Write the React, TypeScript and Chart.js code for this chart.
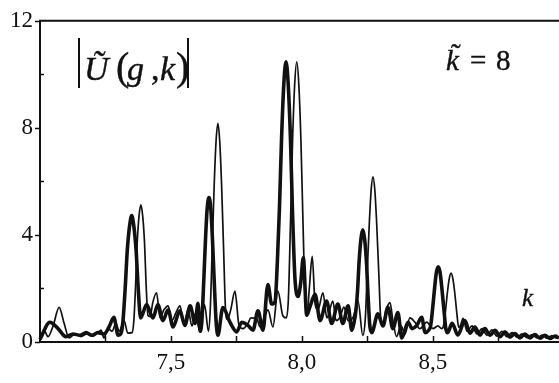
import React, { useEffect, useRef } from "react";
import { Chart, registerables } from "chart.js";

Chart.register(...registerables);

// ---- data: thick curve ----
const kThick = [
  7.000, 7.038, 7.069, 7.099, 7.126, 7.153, 7.176, 7.198, 7.221, 7.244, 7.263, 7.282, 7.298,
  7.308, 7.316, 7.325, 7.333, 7.342, 7.350, 7.358, 7.367, 7.375, 7.384, 7.407, 7.431, 7.450,
  7.469, 7.489, 7.508, 7.534, 7.553, 7.573, 7.592, 7.603, 7.611, 7.618, 7.625, 7.632, 7.638,
  7.645, 7.652, 7.658, 7.665, 7.672, 7.679, 7.698, 7.725, 7.751, 7.770, 7.794, 7.813, 7.832,
  7.851, 7.870, 7.884, 7.897, 7.906, 7.914, 7.922, 7.931, 7.939, 7.947, 7.956, 7.964, 7.973,
  7.985, 7.995, 8.005, 8.018, 8.030, 8.050, 8.069, 8.094, 8.113, 8.137, 8.156, 8.176, 8.190,
  8.198, 8.205, 8.212, 8.218, 8.225, 8.232, 8.239, 8.246, 8.252, 8.259, 8.266, 8.290, 8.309,
  8.328, 8.347, 8.366, 8.381, 8.405, 8.420, 8.438, 8.457, 8.470, 8.484, 8.491, 8.498, 8.506,
  8.513, 8.520, 8.527, 8.534, 8.542, 8.549, 8.556, 8.573, 8.595, 8.622, 8.641, 8.660, 8.679,
  8.698, 8.718, 8.737, 8.756, 8.775, 8.794, 8.813, 8.832, 8.851, 8.870, 8.889, 8.908, 8.927,
  8.947, 8.966, 8.981,
];
const uThick = [
  0.10, 0.74, 0.50, 0.20, 0.30, 0.25, 0.35, 0.25, 0.35, 0.30, 0.55, 0.92, 0.25,
  0.30, 0.71, 1.98, 3.40, 4.34, 4.72, 4.34, 3.40, 1.98, 0.90, 1.40, 0.90, 1.40,
  0.80, 1.20, 0.56, 1.17, 0.62, 1.35, 0.69, 1.45, 0.40, 0.80, 2.27, 3.90, 4.97,
  5.40, 4.97, 3.90, 2.27, 0.80, 0.25, 1.29, 0.74, 0.38, 0.74, 0.62, 0.44, 1.17,
  0.44, 2.15, 1.42, 1.50, 3.00, 5.00, 7.60, 9.70, 10.47, 9.70, 7.60, 4.80, 2.40,
  1.70, 2.20, 3.15, 1.00, 1.30, 1.78, 0.80, 1.53, 0.69, 1.42, 0.69, 1.35, 0.44,
  0.70, 1.10, 1.90, 3.00, 3.85, 4.19, 3.85, 3.00, 1.76, 0.60, 0.35, 1.05, 0.60,
  1.30, 0.50, 1.10, 0.15, 0.74, 0.50, 0.62, 0.92, 0.35, 0.45, 0.60, 1.18, 2.00,
  2.60, 2.81, 2.60, 2.00, 1.18, 0.50, 0.35, 0.70, 0.26, 0.80, 0.33, 0.56, 0.26,
  0.50, 0.25, 0.44, 0.20, 0.38, 0.18, 0.32, 0.15, 0.30, 0.15, 0.28, 0.14, 0.25,
  0.13, 0.22, 0.15,
];

// ---- data: thin curve ----
const kThin = [
  7.000, 7.015, 7.031, 7.050, 7.073, 7.092, 7.111, 7.134, 7.156, 7.179, 7.202, 7.221, 7.233,
  7.244, 7.260, 7.275, 7.290, 7.302, 7.321, 7.335, 7.351, 7.358, 7.365, 7.371, 7.378, 7.385,
  7.392, 7.399, 7.405, 7.412, 7.420, 7.431, 7.445, 7.458, 7.473, 7.489, 7.504, 7.519, 7.534,
  7.550, 7.565, 7.580, 7.595, 7.607, 7.617, 7.628, 7.643, 7.650, 7.657, 7.665, 7.672, 7.679,
  7.686, 7.693, 7.701, 7.708, 7.715, 7.728, 7.744, 7.760, 7.775, 7.794, 7.805, 7.827, 7.840,
  7.859, 7.870, 7.889, 7.908, 7.927, 7.940, 7.948, 7.956, 7.964, 7.972, 7.980, 7.988, 7.996,
  8.004, 8.012, 8.020, 8.028, 8.039, 8.050, 8.061, 8.080, 8.095, 8.118, 8.130, 8.145, 8.160,
  8.176, 8.195, 8.214, 8.232, 8.242, 8.249, 8.257, 8.264, 8.271, 8.278, 8.285, 8.293, 8.300,
  8.307, 8.321, 8.336, 8.347, 8.361, 8.378, 8.393, 8.412, 8.431, 8.450, 8.476, 8.500, 8.519,
  8.533, 8.540, 8.547, 8.555, 8.562, 8.569, 8.576, 8.583, 8.591, 8.598, 8.605, 8.615, 8.630,
  8.649, 8.668, 8.687, 8.706, 8.725, 8.744, 8.763, 8.782, 8.802, 8.821, 8.840, 8.859, 8.878,
  8.897, 8.916, 8.935, 8.954, 8.973,
];
const uThin = [
  0.05, 0.45, 0.20, 0.60, 1.29, 0.70, 0.15, 0.30, 0.20, 0.30, 0.22, 0.35, 0.44,
  0.15, 0.50, 0.40, 0.70, 0.40, 0.80, 0.33, 0.35, 0.77, 2.15, 3.70, 4.70, 5.12,
  4.70, 3.70, 2.15, 1.00, 0.95, 1.50, 1.84, 0.92, 1.20, 1.35, 0.80, 1.10, 1.35,
  0.70, 1.20, 0.60, 1.10, 0.50, 0.80, 1.40, 0.40, 1.23, 3.40, 5.90, 7.50, 8.17,
  7.50, 5.90, 3.40, 1.23, 0.85, 1.20, 1.90, 0.60, 0.50, 0.70, 0.90, 0.88, 0.56,
  1.00, 1.20, 0.56, 1.90, 0.98, 0.90, 1.60, 4.40, 7.50, 9.60, 10.47, 9.60, 7.50,
  4.40, 1.60, 1.10, 2.00, 3.20, 1.42, 1.20, 1.84, 0.90, 1.53, 0.80, 0.92, 1.30,
  0.80, 0.92, 1.53, 0.25, 0.93, 2.60, 4.44, 5.68, 6.17, 5.68, 4.44, 2.60, 0.93,
  0.60, 1.20, 1.47, 0.80, 0.20, 0.60, 0.30, 0.90, 0.74, 0.50, 0.74, 0.50, 0.60,
  0.50, 0.60, 1.08, 1.85, 2.36, 2.57, 2.36, 1.85, 1.08, 0.55, 0.62, 0.88, 0.40,
  0.60, 0.30, 0.50, 0.25, 0.45, 0.22, 0.40, 0.20, 0.35, 0.18, 0.30, 0.16, 0.28,
  0.15, 0.26, 0.14, 0.24, 0.13,
];

// ---- axes ----
const K_MIN = 7.0;
const K_MAX = 8.981;
const U_MIN = 0;
const U_MAX = 12;
const xTickValues = [7.5, 8.0, 8.5];
const xTickLabels = ["7,5", "8,0", "8,5"];
const xMinorTicks = [7.25, 7.75, 8.25, 8.75];
const yTickValues = [0, 4, 8, 12];
const yTickLabels = ["0", "4", "8", "12"];
const yMinorTicks = [2, 6, 10];

const SERIF = "'Liberation Serif', 'Times New Roman', serif";
const INK = "#111111";

function txt(ctx: CanvasRenderingContext2D, s: string, x: number, y: number) {
  ctx.fillText(s, x, y);
  ctx.strokeText(s, x, y);
}

const framePlugin = {
  id: "frame",
  afterDatasetsDraw(chart: any) {
    const { ctx, chartArea: a, scales } = chart;
    const xs = scales.x;
    const ys = scales.y;
    ctx.save();
    ctx.strokeStyle = INK;
    ctx.lineWidth = 2;
    ctx.beginPath();
    ctx.moveTo(a.left, a.top);
    ctx.lineTo(a.right, a.top);
    ctx.moveTo(a.left, a.top - 1);
    ctx.lineTo(a.left, a.bottom + 1);
    ctx.moveTo(a.left, a.bottom);
    ctx.lineTo(a.right, a.bottom);
    ctx.stroke();

    ctx.lineWidth = 1.5;
    ctx.beginPath();
    [...xTickValues, ...xMinorTicks].forEach((v) => {
      const px = Math.round(xs.getPixelForValue(v)) + 0.5;
      ctx.moveTo(px, a.bottom);
      ctx.lineTo(px, a.bottom - 6);
    });
    yTickValues.forEach((v) => {
      const py = Math.round(ys.getPixelForValue(v)) + 0.5;
      ctx.moveTo(a.left, py);
      ctx.lineTo(a.left - 5, py);
    });
    yMinorTicks.forEach((v) => {
      const py = Math.round(ys.getPixelForValue(v)) + 0.5;
      ctx.moveTo(a.left, py);
      ctx.lineTo(a.left + 4, py);
    });
    ctx.stroke();

    // annotations
    ctx.fillStyle = INK;
    ctx.textBaseline = "alphabetic";
    ctx.textAlign = "left";
    // |Ũ(g,k)|
    ctx.lineWidth = 2;
    ctx.beginPath();
    ctx.moveTo(79, 38);
    ctx.lineTo(79, 88);
    ctx.moveTo(188, 38);
    ctx.lineTo(188, 88);
    ctx.stroke();
    ctx.lineWidth = 0.4;
    ctx.font = `italic 34px ${SERIF}`;
    txt(ctx, "Ũ", 84, 80);
    ctx.font = `40px ${SERIF}`;
    txt(ctx, "(", 116, 80);
    ctx.font = `italic 34px ${SERIF}`;
    txt(ctx, "g", 127, 80);
    ctx.font = `34px ${SERIF}`;
    txt(ctx, ",", 151, 80);
    ctx.font = `italic 34px ${SERIF}`;
    txt(ctx, "k", 160, 80);
    ctx.font = `40px ${SERIF}`;
    txt(ctx, ")", 176, 80);

    // k̃ = 8
    ctx.font = `italic 29px ${SERIF}`;
    txt(ctx, "k", 446, 70);
    ctx.font = `29px ${SERIF}`;
    txt(ctx, "\u02DC", 451, 64);
    txt(ctx, "=", 470, 70);
    txt(ctx, "8", 496, 70);

    // axis name
    ctx.font = `italic 25px ${SERIF}`;
    txt(ctx, "k", 522, 306);
    ctx.restore();
  },
};

export default function App() {
  const ref = useRef<HTMLCanvasElement>(null);
  useEffect(() => {
    const canvas = ref.current;
    if (!canvas) return;
    const chart = new Chart(canvas, {
      type: "line",
      data: {
        datasets: [
          {
            label: "thin",
            data: kThin.map((k, i) => ({ x: k, y: uThin[i] })),
            borderColor: INK,
            borderWidth: 1.7,
            pointRadius: 0,
            cubicInterpolationMode: "monotone",
            fill: false,
            clip: 4,
          },
          {
            label: "thick",
            data: kThick.map((k, i) => ({ x: k, y: uThick[i] })),
            borderColor: INK,
            borderWidth: 3.6,
            pointRadius: 0,
            cubicInterpolationMode: "monotone",
            fill: false,
            clip: 4,
          },
        ],
      },
      plugins: [framePlugin],
      options: {
        animation: false,
        responsive: false,
        devicePixelRatio: 1,
        layout: { padding: { top: 13, right: 0, left: 0, bottom: 0 } },
        plugins: {
          legend: { display: false },
          tooltip: { enabled: false },
        },
        scales: {
          x: {
            type: "linear",
            min: K_MIN,
            max: K_MAX,
            grid: { display: false, drawTicks: false },
            border: { display: false },
            afterBuildTicks: (s: any) => {
              s.ticks = xTickValues.map((v) => ({ value: v }));
            },
            afterFit: (s: any) => {
              s.height = 41;
            },
            ticks: {
              autoSkip: false,
              maxRotation: 0,
              padding: 7,
              color: INK,
              font: { family: SERIF, size: 23 },
              callback: (v: any) => {
                const i = xTickValues.findIndex((t) => Math.abs(t - Number(v)) < 1e-6);
                return i >= 0 ? xTickLabels[i] : "";
              },
            },
          },
          y: {
            type: "linear",
            min: U_MIN,
            max: U_MAX,
            grid: { display: false, drawTicks: false },
            border: { display: false },
            afterBuildTicks: (s: any) => {
              s.ticks = yTickValues.map((v) => ({ value: v }));
            },
            afterFit: (s: any) => {
              s.width = 40;
            },
            ticks: {
              autoSkip: false,
              padding: 7,
              color: INK,
              font: { family: SERIF, size: 23 },
              callback: (v: any) => {
                const i = yTickValues.findIndex((t) => Math.abs(t - Number(v)) < 1e-6);
                return i >= 0 ? yTickLabels[i] : "";
              },
            },
          },
        },
      },
    } as any);
    const redraw = () => chart.draw();
    const t = setTimeout(redraw, 150);
    return () => {
      clearTimeout(t);
      chart.destroy();
    };
  }, []);

  return (
    <div style={{ position: "absolute", left: 0, top: 0, width: 559, height: 383, background: "#ffffff" }}>
      <canvas ref={ref} width={559} height={383} style={{ display: "block" }} />
    </div>
  );
}
